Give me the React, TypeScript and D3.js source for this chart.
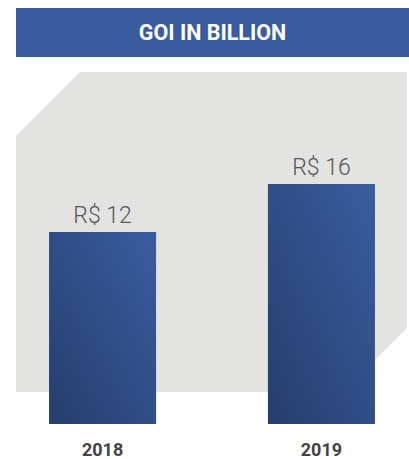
import React from "react";
import * as d3 from "d3";

const title = "GOI IN BILLION";
const years = ["2018", "2019"];
const values = [12, 16];
const valueLabels = ["R$ 12", "R$ 16"];

const W = 409;
const H = 459;

export default function App() {
  const x = d3.scaleBand<string>().domain(years).range([16, 408]).paddingInner(0.511).paddingOuter(0.151);
  const y = d3.scaleLinear().domain([-4, 16]).range([424, 184]);
  const base = y.domain()[0];
  const bg = "M80,72 L407,72 L407,328 L343,392 L16,392 L16,136 Z";
  return (
    <div style={{ position: "fixed", left: 0, top: 0, width: W, height: H, background: "#fff" }}>
      <svg width={W} height={H} style={{ display: "block" }}>
        <defs>
          <linearGradient id="barGrad" x1="1" y1="0" x2="0" y2="1">
            <stop offset="0" stopColor="#3a5da0" />
            <stop offset="1" stopColor="#253e6c" />
          </linearGradient>
        </defs>
        <rect x={16} y={8} width={W - 16} height={49} fill="#3a5b9d" />
        <text x={212.5} y={40} textAnchor="middle" fill="#fff" fontFamily="Roboto" fontWeight={700} fontSize={21.5}>
          {title}
        </text>
        <path d={bg} fill="#e3e3e2" />
        {years.map((yr, i) => {
          const bx = x(yr)!;
          const bw = x.bandwidth();
          return (
            <g key={yr}>
              <rect x={bx} y={y(values[i])} width={bw} height={y(base) - y(values[i])} fill="url(#barGrad)" />
              <text x={bx + bw / 2} y={y(values[i]) - 9} textAnchor="middle" fill="#555" fontFamily="Roboto" fontWeight={300} fontSize={23}>
                {valueLabels[i]}
              </text>
              <text x={bx + bw / 2} y={456} textAnchor="middle" fill="#444" fontFamily="Roboto" fontWeight={700} fontSize={18}>
                {yr}
              </text>
            </g>
          );
        })}
      </svg>
    </div>
  );
}
